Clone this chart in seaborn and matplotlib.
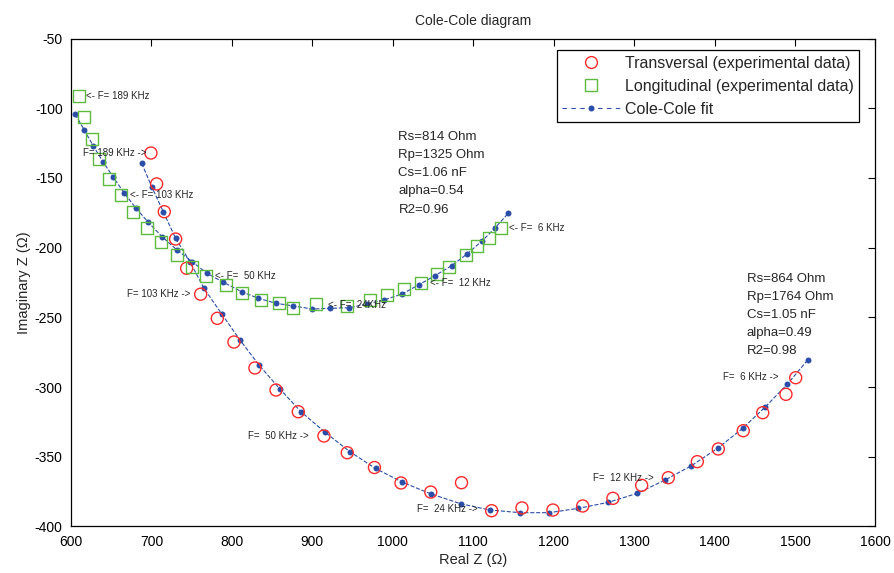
import matplotlib
matplotlib.use('Agg')
import matplotlib.pyplot as plt
import seaborn as sns
import pandas as pd
from matplotlib.lines import Line2D

# transversal measurements (circles)
trans_re = [699.3, 706.4, 715.9, 730.0, 743.7, 761.1, 781.8, 802.5, 828.6, 854.8,
            882.5, 914.4, 943.4, 977.2, 1010.2, 1047.2, 1085.4, 1122.9, 1160.6, 1199.1,
            1236.1, 1273.7, 1309.4, 1342.5, 1378.6, 1404.7, 1435.7, 1459.9, 1488.8, 1500.9]
trans_im = [-132.1, -154.3, -174.2, -193.8, -214.8, -233.4, -250.7, -267.7, -286.3, -302.1,
            -317.7, -335.1, -347.1, -357.7, -368.8, -375.3, -368.6, -388.7, -386.7, -388.2,
            -385.3, -379.8, -370.5, -365.0, -353.5, -344.4, -331.3, -318.4, -305.2, -293.3]

# longitudinal measurements (squares)
long_re = [610.2, 616.0, 626.0, 635.1, 647.5, 661.7, 677.3, 694.4, 711.4, 731.7,
           750.7, 767.4, 792.6, 812.9, 836.1, 858.9, 875.5, 904.5, 942.7, 971.6,
           993.1, 1013.9, 1034.7, 1054.6, 1070.2, 1090.6, 1104.3, 1119.6, 1134.1]
long_im = [-91.0, -106.5, -122.2, -136.4, -150.5, -162.2, -174.6, -185.7, -195.9, -205.2,
           -213.6, -220.1, -227.0, -232.7, -237.5, -239.9, -243.5, -240.4, -241.8, -237.5,
           -233.9, -229.6, -225.5, -219.1, -213.6, -205.2, -198.6, -193.3, -185.7]

# Cole-Cole fits
fit_t_re = [687.8, 700.6, 714.6, 730.0, 747.8, 765.2, 787.6, 810.0, 833.6, 859.7,
            885.8, 915.7, 946.8, 978.5, 1011.7, 1047.7, 1084.4, 1120.8, 1158.1, 1194.5,
            1230.6, 1267.9, 1304.0, 1338.4, 1370.7, 1403.9, 1435.0, 1462.7, 1490.7, 1515.8]
fit_t_im = [-139.5, -156.7, -174.2, -193.3, -210.1, -229.1, -247.8, -266.2, -284.2, -301.4,
            -317.7, -332.4, -346.4, -358.4, -368.2, -376.7, -383.7, -388.2, -390.1, -390.1,
            -387.0, -382.7, -376.2, -366.7, -356.6, -343.9, -329.6, -314.5, -297.8, -280.6]

fit_l_re = [605.2, 616.4, 627.6, 639.7, 652.5, 666.1, 680.7, 696.0, 713.0, 731.7,
            750.7, 769.0, 789.2, 812.1, 832.7, 854.8, 876.3, 899.9, 921.9, 945.9,
            967.5, 989.0, 1011.0, 1032.5, 1052.4, 1073.2, 1091.9, 1111.3, 1127.4, 1143.6]
fit_l_im = [-104.3, -115.6, -127.0, -138.3, -149.5, -160.8, -171.7, -181.8, -192.1, -201.7,
            -210.1, -218.4, -224.8, -231.6, -236.3, -239.9, -241.8, -244.0, -243.5, -243.1,
            -240.4, -237.5, -233.4, -226.6, -220.1, -212.9, -204.7, -195.0, -185.7, -175.3]

params_long = ['Rs=814 Ohm', 'Rp=1325 Ohm', 'Cs=1.06 nF', 'alpha=0.54', 'R2=0.96']
params_trans = ['Rs=864 Ohm', 'Rp=1764 Ohm', 'Cs=1.05 nF', 'alpha=0.49', 'R2=0.98']

sns.set_theme(style='white')
plt.rcParams['font.family'] = ['Liberation Sans', 'DejaVu Sans']
plt.rcParams['axes.unicode_minus'] = False

red = '#ff2a2a'
green = '#5dbb3f'
blue = '#2b4ea8'

fig = plt.figure(figsize=(8.95, 5.73), dpi=100)
ax = fig.add_axes([0.0794, 0.0812, 0.8987, 0.8515])

sns.lineplot(x=fit_t_re, y=fit_t_im, ax=ax, sort=False, estimator=None, color=blue,
             linestyle='--', linewidth=0.8, marker='o', markersize=4.3, markeredgewidth=0,
             dashes=(4, 4))
sns.lineplot(x=fit_l_re, y=fit_l_im, ax=ax, sort=False, estimator=None, color=blue,
             linestyle='--', linewidth=0.8, marker='o', markersize=4.3, markeredgewidth=0,
             dashes=(4, 4))
sns.scatterplot(x=trans_re, y=trans_im, ax=ax, marker='o', s=75, color=red,
                facecolor='none', edgecolor=red, linewidth=1.0, zorder=3)
sns.scatterplot(x=long_re, y=long_im, ax=ax, marker='s', s=75, color=green,
                facecolor='none', edgecolor=green, linewidth=1.0, zorder=3)

# frequency labels
fs = 7
ax.text(619, -91, '<- F= 189 KHz', fontsize=fs, ha='left', va='center')
ax.text(694, -132, 'F= 189 KHz ->', fontsize=fs, ha='right', va='center')
ax.text(673, -162, '<- F= 103 KHz', fontsize=fs, ha='left', va='center')
ax.text(748, -233, 'F= 103 KHz ->', fontsize=fs, ha='right', va='center')
ax.text(779, -220, '<- F=  50 KHz', fontsize=fs, ha='left', va='center')
ax.text(896, -335, 'F=  50 KHz ->', fontsize=fs, ha='right', va='center')
ax.text(920, -241, '<- F=  24KHz', fontsize=fs, ha='left', va='center')
ax.text(1106, -387.5, 'F=  24 KHz ->', fontsize=fs, ha='right', va='center')
ax.text(1046, -225, '<- F=  12 KHz', fontsize=fs, ha='left', va='center')
ax.text(1325, -365, 'F=  12 KHz ->', fontsize=fs, ha='right', va='center')
ax.text(1145, -186, '<- F=  6 KHz', fontsize=fs, ha='left', va='center')
ax.text(1479, -293, 'F=  6 KHz ->', fontsize=fs, ha='right', va='center')

# fit parameters
for i, line in enumerate(params_long):
    ax.text(1007, -120.4 - i * 13.1, line, fontsize=9.5, ha='left', va='center')
for i, line in enumerate(params_trans):
    ax.text(1440, -222.5 - i * 12.9, line, fontsize=9.5, ha='left', va='center')

ax.set_xlim(600, 1600)
ax.set_ylim(-400, -50)
ax.set_xticks(range(600, 1601, 100))
ax.set_yticks(range(-400, -49, 50))
ax.tick_params(direction='in', top=True, right=True, length=5, width=0.8,
               labelsize=10, colors='black', pad=6)
for sp in ax.spines.values():
    sp.set_color('black')
    sp.set_linewidth(0.9)

ax.set_title('Cole-Cole diagram', fontsize=10, pad=10)
ax.set_xlabel('Real Z (\u03a9)', fontsize=10.5, labelpad=3)
ax.set_ylabel('Imaginary Z (\u03a9)', fontsize=10.5, labelpad=3)

handles = [
    Line2D([], [], linestyle='none', marker='o', markersize=8.5, markerfacecolor='none',
           markeredgecolor=red, markeredgewidth=1.0),
    Line2D([], [], linestyle='none', marker='s', markersize=8.5, markerfacecolor='none',
           markeredgecolor=green, markeredgewidth=1.0),
    Line2D([], [], color=blue, linestyle='--', linewidth=0.8, marker='o', markersize=4.3,
           markeredgewidth=0, dashes=(4, 4)),
]
labels = ['Transversal (experimental data)', 'Longitudinal (experimental data)', 'Cole-Cole fit']
leg = ax.legend(handles, labels, loc='upper right', bbox_to_anchor=(0.9796, 0.9766),
                borderaxespad=0, fontsize=11.5, frameon=True, fancybox=False,
                framealpha=1, edgecolor='black', handlelength=3.6, handletextpad=0.3,
                borderpad=0.35, labelspacing=0.5)
leg.get_frame().set_linewidth(0.9)

fig.savefig('out.png', dpi=100)
